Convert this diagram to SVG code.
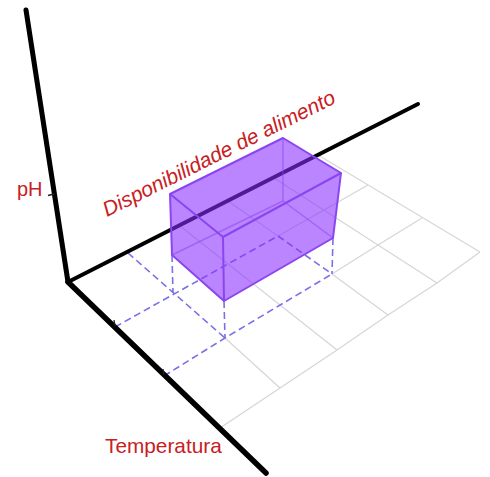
<svg xmlns="http://www.w3.org/2000/svg" width="490" height="477" viewBox="0 0 490 477">
<style>
.grid{stroke:#d6d6d6;stroke-width:1.2;fill:none}
.dash{stroke:#7a70e8;stroke-width:1.6;stroke-dasharray:7 4;fill:none}
.axis{stroke:#000;fill:none;stroke-linecap:round}
.tick{stroke:#222;stroke-width:1.3;fill:none}
.edge{stroke:#8a45f0;stroke-width:2;fill:none;stroke-linejoin:round}
.hid{stroke:#8a45f0;stroke-width:1.4;stroke-opacity:0.55;fill:none}
.lbl{font-family:"Liberation Sans",Arial,sans-serif;font-size:20px;fill:#c8201f}
</style>
<rect width="490" height="477" fill="#fff"/>
<g id="grid">
<line class="grid" x1="180" y1="226" x2="337" y2="350"/>
<line class="grid" x1="228" y1="201" x2="278" y2="236"/>
<line class="grid" x1="332" y1="274" x2="388" y2="315"/>
<line class="grid" x1="274" y1="178" x2="437" y2="283"/>
<line class="grid" x1="318" y1="155" x2="480" y2="252"/>
<line class="grid" x1="225" y1="338" x2="280" y2="388"/>
<polyline class="grid" points="278,236 324,210 368,185"/>
<polyline class="grid" points="332,274 378,245 422,218"/>
<polyline class="grid" points="220,428 280,388 337,350 388,315 437,283 480,252"/>
</g>
<g id="connectors">
<line class="dash" x1="128" y1="253" x2="225" y2="338"/>
<line class="dash" x1="115" y1="327" x2="278" y2="236"/>
<polyline class="dash" points="164,376 225,338 332,274"/>
<line class="dash" x1="278" y1="236" x2="332" y2="274"/>
<line class="dash" x1="172" y1="255" x2="173" y2="293"/>
<line class="dash" x1="224" y1="301" x2="225" y2="338"/>
<line class="dash" x1="333" y1="238" x2="332" y2="274"/>
</g>
<g id="axes">
<line class="axis" x1="26" y1="10" x2="68" y2="282" stroke-width="5"/>
<line class="axis" x1="68" y1="282" x2="418" y2="104" stroke-width="4"/>
<line class="axis" x1="68" y1="282" x2="266" y2="473" stroke-width="5.5"/>
<line class="tick" x1="48" y1="195.5" x2="54" y2="194"/>
<line class="tick" x1="115" y1="326" x2="114" y2="320"/>
<line class="tick" x1="164" y1="375" x2="163" y2="369"/>
</g>
<g id="box">
<polygon points="170,194 283,138 341,173 333,238 224,301 172,255" fill="#8a2cff" fill-opacity="0.58"/>
<polyline class="hid" points="283,138 283,201 172,255"/>
<line class="hid" x1="283" y1="201" x2="333" y2="238"/>
<polygon class="edge" points="170,194 283,138 341,173 223,237"/>
<polyline class="edge" points="223,237 224,301 333,238 341,173"/>
<polyline class="edge" points="170,194 172,255 224,301"/>
</g>
<g id="labels">
<text class="lbl" x="17" y="196">pH</text>
<text class="lbl" x="105" y="453" font-size="20.8" style="font-size:20.8px">Temperatura</text>
<text class="lbl" font-style="italic" transform="translate(107,217) rotate(-26.5)" style="font-size:21px">Disponibilidade de alimento</text>
</g>
</svg>
